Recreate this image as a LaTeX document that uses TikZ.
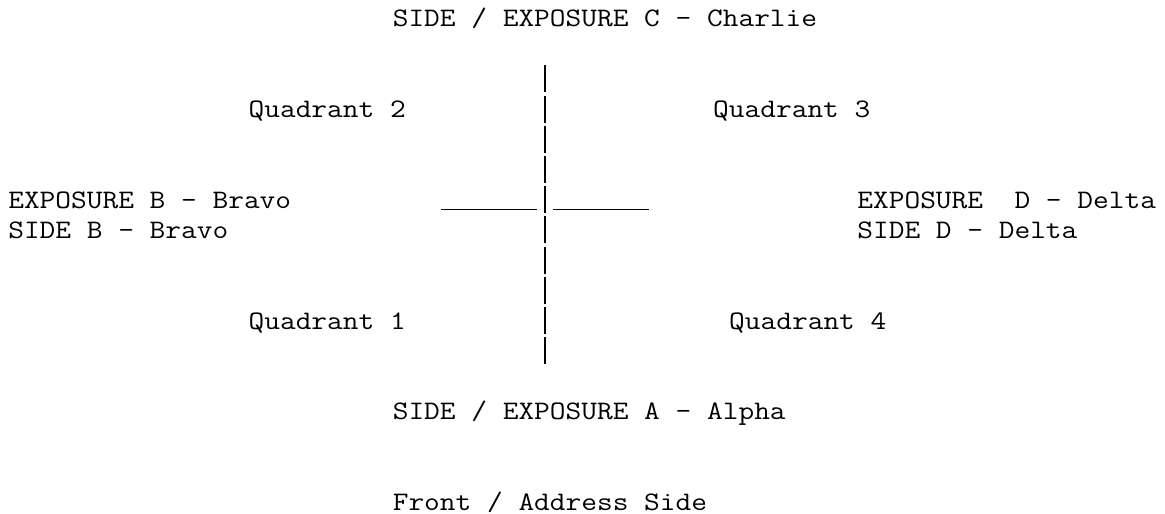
\documentclass[tikz,border=0pt]{standalone}
\usepackage{fontspec}
\newfontfamily\asciimono{Latin Modern Mono}[FakeStretch=1.143]
\begin{document}
\begin{tikzpicture}[x=1pt,y=-1pt,
  lbl/.style={anchor=base west,inner sep=0pt,outer sep=0pt,
    font=\asciimono\fontsize{26.7pt}{30.2pt}\selectfont,text=black},
  pipes/.style={draw=black,line width=1.5pt,dash pattern=on 27pt off 3.2pt},
  underline/.style={draw=black,line width=1.4pt}]
\fill[white] (0,0) rectangle (1165,514);
\useasboundingbox (0,0) rectangle (1165,514);
% columns: x = 8.3 + 16.02*col ; baselines: y = 27 + 30.2*line
\node[lbl] (charlie) at (392.8,27.0)  {SIDE / EXPOSURE C – Charlie};
\node[lbl] (q2)      at (248.6,117.6) {Quadrant 2};
\node[lbl] (q3)      at (713.2,117.6) {Quadrant 3};
\node[lbl] (expB)    at (8.3,208.2)   {EXPOSURE B – Bravo};
\node[lbl] (expD)    at (857.4,208.2) {EXPOSURE\ \ D – Delta};
\node[lbl] (sideB)   at (8.3,238.4)   {SIDE B – Bravo};
\node[lbl] (sideD)   at (857.4,238.4) {SIDE D – Delta};
\node[lbl] (q1)      at (248.6,329.0) {Quadrant 1};
\node[lbl] (q4)      at (729.2,329.0) {Quadrant 4};
\node[lbl] (alpha)   at (392.8,419.6) {SIDE / EXPOSURE A – Alpha};
\node[lbl] (front)   at (392.8,510.2) {Front / Address Side};
% the cross
\coordinate (vtop) at (545,65.4);
\coordinate (vbot) at (545,364.2);
\coordinate (hl1) at (440.8,209.7);
\coordinate (hl2) at (537.0,209.7);
\coordinate (hr1) at (553.0,209.7);
\coordinate (hr2) at (649.1,209.7);
\draw[pipes] (vtop) -- (vbot);
\draw[underline] (hl1) -- (hl2);
\draw[underline] (hr1) -- (hr2);
\end{tikzpicture}
\end{document}
